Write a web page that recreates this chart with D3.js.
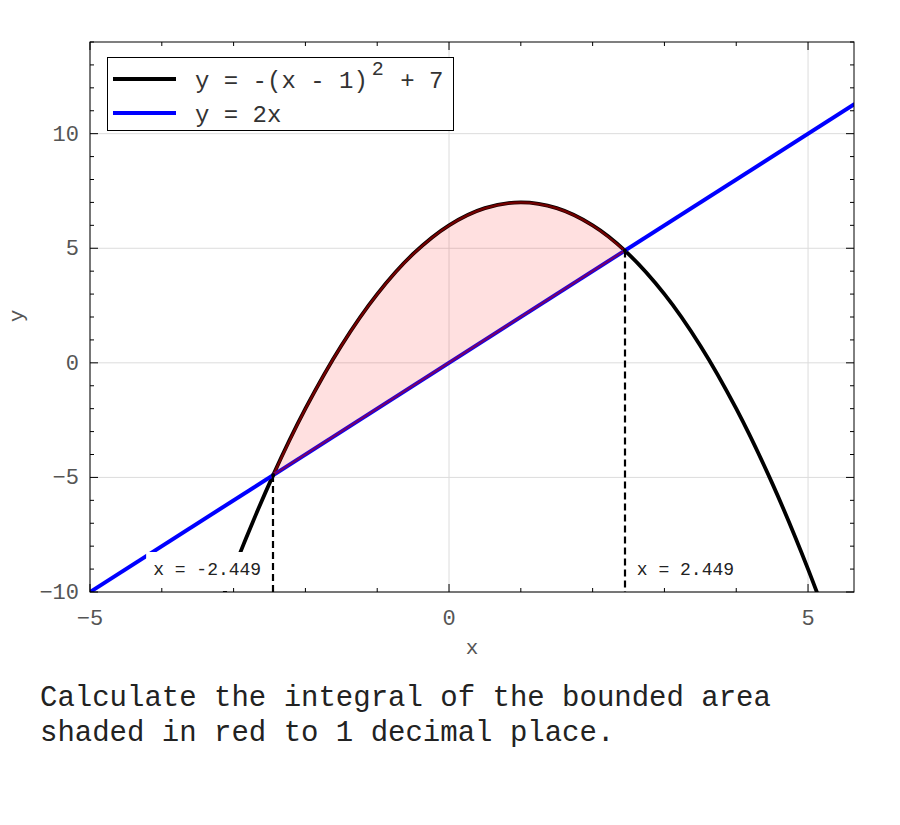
<!DOCTYPE html>
<html><head><meta charset="utf-8">
<script src="https://cdn.jsdelivr.net/npm/d3@7"></script>
<style>body{margin:0;background:#fff}svg{display:block}</style>
</head><body>
<script>
// ---- data ----
const xTicks = [-5, 0, 5];
const yTicks = [-10, -5, 0, 5, 10];
const xMinorTicks = [-5,-4,-3,-2,-1,0,1,2,3,4,5];
const yMinorTicks = [-10,-9,-8,-7,-6,-5,-4,-3,-2,-1,0,1,2,3,4,5,6,7,8,9,10,11,12,13,14];
const parabolaX = [-3.5,-3,-2.449,-2,-1.5,-1,-0.5,0,0.5,1,1.5,2,2.449,3,3.5,4,4.5,5,5.5];
const parabolaY = [-13.25,-9,-4.899,-2,0.75,3,4.75,6,6.75,7,6.75,6,4.899,3,0.75,-2,-5.25,-9,-13.25];
const lineX = [-5, 5.65];
const lineY = [-10, 11.3];
const intersections = [-2.449, 2.449];
const intersectionY = [-4.899, 4.899];
const seriesLabels = ["y = -(x - 1)", "y = 2x"];
const question = ["Calculate the integral of the bounded area", "shaded in red to 1 decimal place."];

const W = 900, H = 825;
const L = 90, R = 854, T = 42, B = 592;
const font = "'Liberation Mono', 'Courier New', monospace";
const svg = d3.select("body").append("svg").attr("width", W).attr("height", H);
const x = d3.scaleLinear().domain([-5, 5.64]).range([L, R]);
const y = d3.scaleLinear().domain([-10, 14]).range([B, T]);

svg.append("defs").append("clipPath").attr("id","clip")
  .append("rect").attr("x",L).attr("y",T).attr("width",R-L).attr("height",B-T);

// grid
const g = svg.append("g");
g.selectAll(".gx").data(xTicks).join("line").attr("x1",d=>x(d)).attr("x2",d=>x(d))
  .attr("y1",T).attr("y2",B).attr("stroke","#dcdcdc").attr("stroke-width",1);
g.selectAll(".gy").data(yTicks).join("line").attr("y1",d=>y(d)).attr("y2",d=>y(d))
  .attr("x1",L).attr("x2",R).attr("stroke","#dcdcdc").attr("stroke-width",1);

const plot = svg.append("g").attr("clip-path","url(#clip)");
const parPts = parabolaX.map((v,i)=>[v, parabolaY[i]]);
const linePts = lineX.map((v,i)=>[v, lineY[i]]);
const curveGen = d3.line().x(d=>x(d[0])).y(d=>y(d[1])).curve(d3.curveCatmullRom.alpha(0.5));
const lineGen = d3.line().x(d=>x(d[0])).y(d=>y(d[1]));

plot.append("path").attr("d", curveGen(parPts)).attr("fill","none").attr("stroke","#000").attr("stroke-width",3.8);
plot.append("path").attr("d", lineGen(linePts)).attr("fill","none").attr("stroke","#0000ff").attr("stroke-width",4);

// shaded region
const region = parPts.filter(p => p[0] >= intersections[0] && p[0] <= intersections[1]);
plot.append("path").attr("d", curveGen(region) + "Z")
  .attr("fill","rgba(255,0,0,0.12)").attr("stroke","rgba(200,0,0,0.55)").attr("stroke-width",2.2);

// dashed verticals
plot.selectAll(".dash").data(intersections).join("line")
  .attr("x1",d=>Math.round(x(d))).attr("x2",d=>Math.round(x(d)))
  .attr("y1",(d,i)=>y(intersectionY[i])).attr("y2",B)
  .attr("stroke","#000").attr("stroke-width",2.2).attr("stroke-dasharray","7,4");
plot.selectAll(".pt").data(intersections).join("circle")
  .attr("cx",d=>x(d)).attr("cy",(d,i)=>y(intersectionY[i])).attr("r",2).attr("fill","#000");

// annotation labels
const ann = svg.append("g");
intersections.forEach((v,i)=>{
  const txt = "x = " + v.toFixed(3);
  const isLeft = v < 0;
  const t = ann.append("text").attr("font-family",font).attr("font-size",18).attr("fill","#222")
    .attr("y", 575).text(txt);
  if (isLeft) t.attr("x", x(v) - 12).attr("text-anchor","end");
  else t.attr("x", x(v) + 12).attr("text-anchor","start");
  const bb = t.node().getBBox();
  ann.insert("rect","text").attr("x",bb.x-7).attr("y",552).attr("width",bb.width+14).attr("height",B-552-1)
    .attr("fill","#fff");
});

// frame
svg.append("rect").attr("x",L).attr("y",T).attr("width",R-L).attr("height",B-T)
  .attr("fill","none").attr("stroke","#000").attr("stroke-width",1);

// ticks (inward, all sides)
const tk = svg.append("g").attr("stroke","#000").attr("stroke-width",1);
xMinorTicks.forEach(v=>{
  const len = xTicks.includes(v) ? 8 : 4;
  tk.append("line").attr("x1",x(v)).attr("x2",x(v)).attr("y1",B).attr("y2",B-len);
  tk.append("line").attr("x1",x(v)).attr("x2",x(v)).attr("y1",T).attr("y2",T+len);
});
yMinorTicks.forEach(v=>{
  const len = yTicks.includes(v) ? 8 : 4;
  tk.append("line").attr("y1",y(v)).attr("y2",y(v)).attr("x1",L).attr("x2",L+len);
  tk.append("line").attr("y1",y(v)).attr("y2",y(v)).attr("x1",R).attr("x2",R-len);
});

// tick labels
const fmt = d => (d < 0 ? "\u2212" + Math.abs(d) : String(d));
svg.append("g").selectAll("text").data(xTicks).join("text")
  .attr("x",d=>x(d)).attr("y",625).attr("text-anchor","middle")
  .attr("font-family",font).attr("font-size",22).attr("fill","#555").text(fmt);
svg.append("g").selectAll("text").data(yTicks).join("text")
  .attr("x",79).attr("y",d=>y(d)+7).attr("text-anchor","end")
  .attr("font-family",font).attr("font-size",22).attr("fill","#555").text(fmt);

// axis labels
svg.append("text").attr("x",472).attr("y",654).attr("text-anchor","middle")
  .attr("font-family",font).attr("font-size",21).attr("fill","#555").text("x");
svg.append("text").attr("transform","translate(23,316) rotate(-90)").attr("text-anchor","middle")
  .attr("font-family",font).attr("font-size",21).attr("fill","#555").text("y");

// legend
const lg = svg.append("g");
lg.append("rect").attr("x",107.5).attr("y",57.5).attr("width",346).attr("height",73)
  .attr("fill","#fff").attr("stroke","#000").attr("stroke-width",1);
const legColors = ["#000","#0000ff"];
const legY = [79, 113];
seriesLabels.forEach((s,i)=>{
  lg.append("line").attr("x1",113).attr("x2",176).attr("y1",legY[i]).attr("y2",legY[i])
    .attr("stroke",legColors[i]).attr("stroke-width",4);
  const t = lg.append("text").attr("x",195).attr("y",legY[i]+9)
    .attr("font-family",font).attr("font-size",24).attr("fill","#333").text(s);
  if (i === 0) {
    t.append("tspan").attr("dx",4).attr("dy",-13).attr("font-size",20).text("2");
    t.append("tspan").attr("dx",2).attr("dy",13).text(" + 7");
  }
});

// question
svg.append("g").selectAll("text").data(question).join("text")
  .attr("x",40).attr("y",(d,i)=>706+i*35)
  .attr("font-family",font).attr("font-size",29).attr("fill","#222").text(d=>d);
</script>
</body></html>
